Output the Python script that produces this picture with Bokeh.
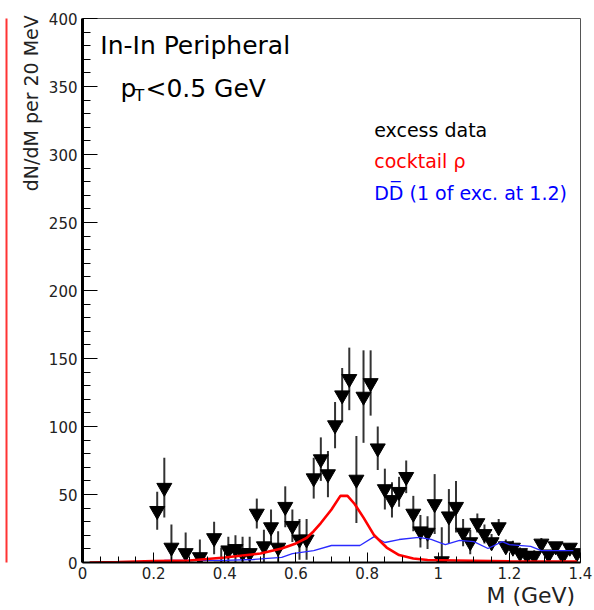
from bokeh.plotting import figure
from bokeh.models import (LinearAxis, FixedTicker, Label, Range1d,
                          CustomJSTickFormatter, ColumnDataSource)
from bokeh.embed import file_html
from bokeh.resources import INLINE

# ---- excess data (20 MeV bins) ----
mass = [0.21, 0.23, 0.25, 0.29, 0.33, 0.37, 0.39, 0.41, 0.43, 0.45, 0.47, 0.49,
        0.51, 0.53, 0.55, 0.57, 0.59, 0.61, 0.63, 0.65, 0.67, 0.69, 0.71, 0.73,
        0.75, 0.77, 0.79, 0.81, 0.83, 0.85, 0.87, 0.89, 0.91, 0.93, 0.95, 0.97,
        0.99, 1.01, 1.03, 1.05, 1.07, 1.09, 1.11, 1.13, 1.15, 1.17, 1.19, 1.21,
        1.23, 1.25, 1.27, 1.29, 1.31, 1.33, 1.35, 1.37, 1.39]
counts = [38, 55, 11, 7, 4, 18, -3, 9, 10, 7, 7, 36,
          12, 26, 11, 41, 27, 17, 17, 62, 76, 65, 101, 123,
          135, 61, 122, 132, 84, 54, 46, 52, 63, 36, 23, 22,
          43, 1, 34, 41, 22, 15, 29, 21, 15, 26, 12, 11,
          7, 5, 5, 14, 6, 12, 5, 11, 7]
errors = [14, 22, 17, 15, 13, 12, 14, 10, 10, 12, 12, 11,
          12, 13, 12, 15, 12, 15, 15, 15, 16, 17, 17, 20,
          23, 32, 34, 24, 16, 15, 13, 11, 12, 13, 12, 12,
          22, 25, 20, 19, 10, 9, 7, 7, 6, 6, 5, 5,
          4, 4, 4, 4, 3, 3, 3, 3, 3]

# ---- cocktail rho ----
rho_m = [0.02, 0.10, 0.20, 0.30, 0.40, 0.50, 0.56, 0.60, 0.63, 0.65, 0.67, 0.70,
         0.725, 0.745, 0.765, 0.79, 0.82, 0.855, 0.89, 0.93, 0.97, 1.05, 1.20, 1.39]
rho_y = [0, 0.3, 1, 1.5, 3.7, 6.6, 10.3, 14, 18, 23, 29, 39,
         49, 49, 43, 33, 20, 11, 5.5, 3, 1.8, 1.5, 0.8, 0.7]

# ---- D Dbar ----
dd_m = [0.23, 0.40, 0.48, 0.56, 0.59, 0.65, 0.70, 0.78, 0.82, 0.85, 0.89, 0.945,
        0.98, 1.01, 1.02, 1.06, 1.10, 1.14, 1.18, 1.20, 1.26, 1.29, 1.38]
dd_y = [1.5, 1.5, 2.2, 3.7, 6.6, 8.8, 12.5, 12.5, 19, 14.7, 16.9, 18.4,
        17, 14, 13.2, 16.2, 15.4, 10.3, 15.4, 13.2, 11.8, 8.8, 8.8]

x_ticks = [0, 0.2, 0.4, 0.6, 0.8, 1.0, 1.2, 1.4]
x_minor = [0.05, 0.1, 0.15, 0.25, 0.3, 0.35, 0.45, 0.5, 0.55, 0.65, 0.7, 0.75,
           0.85, 0.9, 0.95, 1.05, 1.1, 1.15, 1.25, 1.3, 1.35]
y_ticks = [0, 50, 100, 150, 200, 250, 300, 350, 400]
y_minor = [v for v in range(10, 400, 10) if v % 50 != 0]

FONT = "DejaVu Sans"
NB = "\u00a0"

p = figure(width=594, height=610, output_backend="svg", toolbar_location=None,
           x_range=Range1d(0, 1.4), y_range=Range1d(0, 400),
           min_border_left=82, min_border_right=14, min_border_top=18,
           min_border_bottom=48,
           x_axis_label=NB * 57 + "M (GeV)",
           y_axis_label=NB * 62 + "dN/dM per 20 MeV")
p.xgrid.visible = False
p.ygrid.visible = False
p.outline_line_color = "#555555"
p.outline_line_width = 1
p.background_fill_color = "white"
p.border_fill_color = "white"

for ax in (p.xaxis[0], p.yaxis[0]):
    ax.major_tick_out = 0
    ax.minor_tick_out = 0
    ax.axis_line_color = "black"
    ax.major_tick_line_color = "black"
    ax.minor_tick_line_color = "black"
    ax.major_label_text_font = FONT
    ax.major_label_text_font_size = "15px"
    ax.major_label_text_color = "#222222"
    ax.axis_label_text_font = FONT
    ax.axis_label_text_font_style = "normal"
    ax.axis_label_text_color = "#222222"

xa = p.xaxis[0]
xa.ticker = FixedTicker(ticks=x_ticks, minor_ticks=x_minor)
xa.formatter = CustomJSTickFormatter(code="return tick.toFixed(1).replace(/\\.0$/, '');")
xa.major_tick_in = 10
xa.minor_tick_in = 6
xa.axis_line_width = 2
xa.major_label_standoff = 4
xa.axis_label_standoff = 1
xa.axis_label_text_font_size = "22px"

ya = p.yaxis[0]
ya.ticker = FixedTicker(ticks=y_ticks, minor_ticks=y_minor)
ya.major_tick_in = 15
ya.minor_tick_in = 8
ya.axis_line_width = 3
ya.major_label_standoff = 5
ya.axis_label_standoff = 4
ya.axis_label_text_font_size = "19px"

# spacer and red border line at far left
spacer = LinearAxis(ticker=FixedTicker(ticks=[]), axis_line_color=None,
                    major_tick_line_color=None, minor_tick_line_color=None,
                    axis_label=" ", axis_label_text_font_size="1px",
                    axis_label_standoff=6)
p.add_layout(spacer, "left")
red_axis = LinearAxis(ticker=FixedTicker(ticks=[]), axis_line_color="#ff3333",
                      axis_line_width=2, major_tick_line_color=None,
                      minor_tick_line_color=None)
p.add_layout(red_axis, "left")

# data
lo = [c - e for c, e in zip(counts, errors)]
hi = [c + e for c, e in zip(counts, errors)]
src = ColumnDataSource(dict(m=mass, y=counts, lo=lo, hi=hi))
p.segment(x0="m", y0="lo", x1="m", y1="hi", source=src, line_color="#333333",
          line_width=2)
p.scatter(x="m", y="y", source=src, marker="inverted_triangle", size=15,
          fill_color="black", line_color="black")

p.line(dd_m, dd_y, line_color="#2a2aff", line_width=1.3)
p.line(rho_m, rho_y, line_color="#ff0000", line_width=2.6)

# texts
def lab(x, y, text, size, color="black", baseline="alphabetic"):
    p.add_layout(Label(x=x, y=y, text=text, text_font=FONT,
                       text_font_size=size, text_color=color,
                       text_baseline=baseline, text_align="left"))

lab(0.05, 380, "In-In Peripheral", "25px")
lab(0.107, 348.6, "p", "25px")
lab(0.146, 343.6, "T", "16px")
lab(0.177, 348.6, "<0.5 GeV", "25px")
lab(0.82, 318, "excess data", "19px")
lab(0.82, 295.5, "cocktail \u03c1", "19px", "#ff0000")
lab(0.82, 272, "DD\u0305 (1 of exc. at 1.2)", "19px", "#0000ff")

open("out.html", "w").write(file_html(p, INLINE))
